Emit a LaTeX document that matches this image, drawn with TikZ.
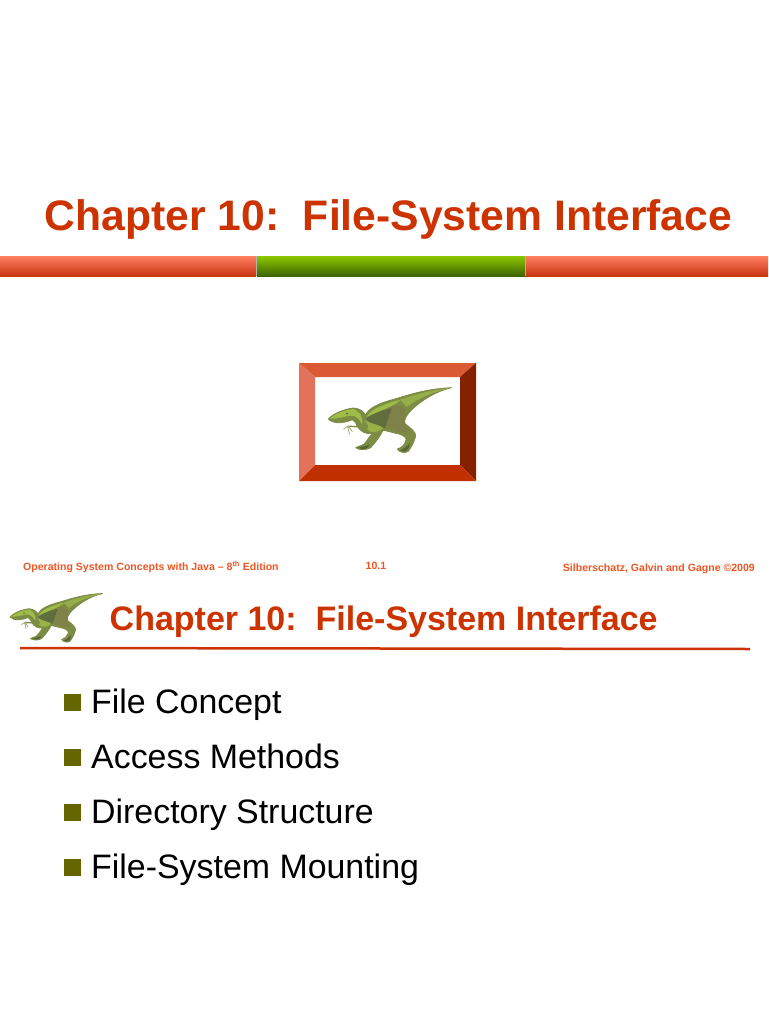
\documentclass[tikz,border=0pt]{standalone}
\usepackage{fontspec}
\setmainfont{Liberation Sans}
\definecolor{TitleRed}{HTML}{CC3300}
\definecolor{FootRed}{HTML}{EE5522}
\definecolor{BulletOlive}{HTML}{666600}
\definecolor{FrameTop}{HTML}{DA5A33}
\definecolor{FrameLeft}{HTML}{E2735A}
\definecolor{FrameRight}{HTML}{852000}
\definecolor{FrameBottom}{HTML}{C03000}
\definecolor{DinoMid}{HTML}{7C8C44}
\definecolor{DinoDark}{HTML}{56643A}
\definecolor{DinoLight}{HTML}{A0BC48}
\definecolor{DinoHip}{HTML}{7F7F4C}
\definecolor{BarRedTop}{HTML}{FF7F5F}
\definecolor{BarRedEnd}{HTML}{C93412}
\definecolor{BarGreenTop}{HTML}{8CC800}
\definecolor{BarGreenEnd}{HTML}{3E6400}
\tikzset{
  MainTitle/.style={anchor=base west,inner sep=0pt,text=TitleRed,font=\fontsize{42.65}{48}\selectfont\bfseries},
  SubTitle/.style={anchor=base west,inner sep=0pt,text=TitleRed,font=\fontsize{34}{40}\selectfont\bfseries},
  Foot/.style={inner sep=0pt,text=FootRed,font=\fontsize{10.55}{13}\selectfont\bfseries},
  Item/.style={anchor=base west,inner sep=0pt,text=black,font=\fontsize{33.9}{40}\selectfont},
  Bullet/.style={rectangle,fill=BulletOlive,inner sep=0pt,minimum size=17pt},
  BarPart/.style={minimum height=20pt,inner sep=0pt,draw=none},
  RedBar/.style={BarPart,top color=BarRedTop,bottom color=BarRedEnd},
  GreenBar/.style={BarPart,top color=BarGreenTop,bottom color=BarGreenEnd},
  Shade/.style={fill opacity=.75},
}
\newcommand{\dinoshape}{%
  % far arm and claws
  \draw[DinoMid,line width=1.3pt,line cap=round] (105,128) .. controls (95,135) and (80,128) .. (68,130);
  \draw[DinoMid!70!white,line width=.8pt,line cap=round] (68,130) -- (56,138) (68,130) -- (74,154) (70,130) -- (82,146);
  % body outline
  \filldraw[fill=DinoMid,draw=DinoMid,line width=.8pt,line join=round] (10,108) .. controls (22,94) and (50,80) .. (85,75)
    .. controls (105,76) and (116,86) .. (122,96)
    .. controls (130,76) and (160,62) .. (195,52)
    .. controls (235,42) and (290,18) .. (380,14)
    .. controls (335,24) and (292,50) .. (258,82)
    .. controls (244,98) and (236,110) .. (240,122)
    .. controls (257,135) and (274,148) .. (272,160)
    .. controls (267,180) and (257,195) .. (250,205)
    .. controls (240,212) and (222,208) .. (217,198)
    .. controls (228,194) and (238,188) .. (242,175)
    .. controls (248,165) and (235,157) .. (222,153)
    .. controls (205,150) and (190,144) .. (174,142)
    .. controls (167,158) and (152,178) .. (137,194)
    .. controls (125,202) and (100,202) .. (92,194)
    .. controls (102,188) and (118,188) .. (124,175)
    .. controls (130,165) and (138,158) .. (142,151)
    .. controls (125,155) and (108,147) .. (98,132)
    .. controls (94,122) and (90,114) .. (82,110)
    .. controls (60,120) and (25,125) .. (10,108) -- cycle;
  % shading
  \fill[DinoHip,Shade] (190,72) .. controls (215,62) and (245,70) .. (242,98)
    .. controls (234,115) and (240,130) .. (254,142) .. controls (235,152) and (200,148) .. (188,132) -- cycle;
  \fill[DinoDark,Shade] (122,108) .. controls (145,90) and (175,80) .. (200,76)
    .. controls (192,97) and (188,115) .. (180,136) .. controls (155,128) and (135,122) .. (122,108) -- cycle;
  \fill[DinoLight] (14,107) .. controls (30,92) and (55,82) .. (85,78)
    .. controls (102,82) and (114,100) .. (112,124) .. controls (102,106) and (90,96) .. (75,98)
    .. controls (55,102) and (35,108) .. (14,107) -- cycle;
  \fill[DinoLight] (124,102) .. controls (140,76) and (180,62) .. (228,50)
    .. controls (205,72) and (160,84) .. (124,102) -- cycle;
  \fill[DinoLight!70!DinoMid] (225,50) .. controls (270,35) and (320,20) .. (376,15)
    .. controls (330,26) and (285,42) .. (245,72) -- cycle;
  \fill[DinoLight!80!DinoMid] (118,112) .. controls (140,122) and (165,127) .. (174,134)
    .. controls (167,148) and (135,154) .. (125,138) .. controls (135,134) and (128,122) .. (118,112) -- cycle;
  \fill[DinoDark] (100,194) .. controls (112,191) and (125,189) .. (134,184) .. controls (130,199) and (112,202) .. (100,194) -- cycle;
  \fill[DinoDark] (225,202) .. controls (235,198) and (245,192) .. (255,180) .. controls (255,198) and (240,212) .. (225,202) -- cycle;
  \fill[DinoDark] (66,92) circle (3);
}
\begin{document}
\begin{tikzpicture}[x=1pt,y=-1pt]
  \useasboundingbox (0,0) rectangle (768,1024);
  % upper slide
  \node[MainTitle] (title) at (44.5,230){Chapter 10:\ \ File-System Interface};
  \node[RedBar,minimum width=256pt] (barleft) at (128,266){};
  \node[GreenBar,minimum width=268pt] (barmid) at (391,266){};
  \node[RedBar,minimum width=243pt] (barright) at (646.5,266){};
  \draw[gray!60,line width=.8pt] (barmid.north west) to (barmid.south west);
  \draw[gray!60,line width=.8pt] (barmid.north east) to (barmid.south east);
  % frame
  \fill[FrameTop] (299,363) -- (476,363) -- (460,377) -- (315,377) -- cycle;
  \fill[FrameLeft] (299,363) -- (315,377) -- (315,465) -- (299,481) -- cycle;
  \fill[FrameRight] (476,363) -- (476,481) -- (460,465) -- (460,377) -- cycle;
  \fill[FrameBottom] (299,481) -- (315,465) -- (460,465) -- (476,481) -- cycle;
  \begin{scope}[shift={(325,383)},x=.3333pt,y=-.3333pt]
    \dinoshape
  \end{scope}
  % footer
  \node[Foot,anchor=base west] (footleft) at (23,570){Operating System Concepts with Java -- 8\textsuperscript{th} Edition};
  \node[Foot,anchor=base] (footmid) at (376,569){10.1};
  \node[Foot,anchor=base east] (footright) at (755,571){Silberschatz, Galvin and Gagne ©2009};
  % lower slide
  \begin{scope}[shift={(7.5,590)},x=.25pt,y=-.25pt]
    \dinoshape
  \end{scope}
  \node[SubTitle] (subtitle) at (109.5,630){Chapter 10:\ \ File-System Interface};
  \coordinate (ruleleft) at (20,648);
  \coordinate (ruleright) at (750,649);
  \draw[TitleRed,line width=2.5pt] (ruleleft) to (ruleright);
  \node[Bullet] (b1) at (72.5,702.5){};
  \node[Bullet] (b2) at (72.5,757.5){};
  \node[Bullet] (b3) at (72.5,812.5){};
  \node[Bullet] (b4) at (72.5,867.5){};
  \node[Item] (i1) at (91,713.5){File Concept};
  \node[Item] (i2) at (91,768.5){Access Methods};
  \node[Item] (i3) at (91,823.5){Directory Structure};
  \node[Item] (i4) at (91,878.5){File-System Mounting};
\end{tikzpicture}
\end{document}
